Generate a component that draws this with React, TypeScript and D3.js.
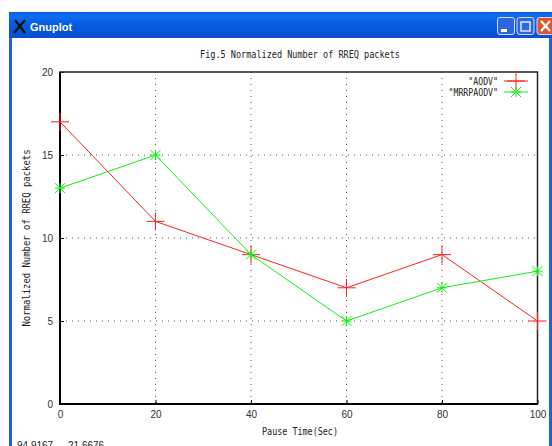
import React, {useEffect, useRef} from 'react';
import * as d3 from "d3";

const pauseTimes = [0, 20, 40, 60, 80, 100]
const aodv = [17, 11, 9, 7, 9, 5]
const mrrpaodv = [13, 15, 9, 5, 7, 8]
const xTicks = [0, 20, 40, 60, 80, 100]
const yTicks = [0, 5, 10, 15, 20]

const W = 552, H = 446
const left = 60, right = 537.5, top = 72, bottom = 404
const mono = "'DejaVu Sans Mono', monospace"
const sans = "'Liberation Sans', Arial, sans-serif"

export default function App() {
  const ref = useRef<SVGSVGElement>(null)

  useEffect(() => {
    const svg = d3.select(ref.current)
    svg.selectAll("*").remove()

    const x = d3.scaleLinear().domain([0, 100]).range([left, right])
    const y = d3.scaleLinear().domain([0, 20]).range([bottom, top])

    // window chrome
    const defs = svg.append("defs")
    const grad = defs.append("linearGradient").attr("id", "bar").attr("x1", 0).attr("x2", 0).attr("y1", 0).attr("y2", 1)
    grad.append("stop").attr("offset", "0").attr("stop-color", "#0a5fe0")
    grad.append("stop").attr("offset", "0.15").attr("stop-color", "#0f6cf0")
    grad.append("stop").attr("offset", "0.6").attr("stop-color", "#0358dc")
    grad.append("stop").attr("offset", "1").attr("stop-color", "#0a4fd0")
    svg.append("rect").attr("x", 9).attr("y", 12).attr("width", W - 9).attr("height", H - 12).attr("fill", "#1a63e8")
    svg.append("rect").attr("x", 9).attr("y", 12).attr("width", W - 9).attr("height", 26).attr("fill", "url(#bar)")
    svg.append("rect").attr("x", 12).attr("y", 38).attr("width", W - 15).attr("height", H - 38).attr("fill", "#fff")

    svg.append("path").attr("d", "M15 20L25 33M25 20L14 33").attr("stroke", "#111").attr("stroke-width", 2.2)
    svg.append("text").attr("x", 30).attr("y", 31).attr("font-family", sans).attr("font-size", 11)
      .attr("font-weight", "bold").attr("fill", "#fff").text("Gnuplot")

    const btn = (bx: number, fill: string) => svg.append("rect").attr("x", bx).attr("y", 17.5).attr("width", 17).attr("height", 17)
      .attr("rx", 2.5).attr("fill", fill).attr("stroke", "#cfdcf8").attr("stroke-width", 1)
    btn(497.5, "#2f66e0")
    svg.append("rect").attr("x", 501).attr("y", 29).attr("width", 6).attr("height", 3).attr("fill", "#fff")
    btn(517, "#2f66e0")
    svg.append("rect").attr("x", 521).attr("y", 22).attr("width", 9).attr("height", 9).attr("fill", "none").attr("stroke", "#dfe8fb").attr("stroke-width", 1.5)
    btn(537, "#e0562c")
    svg.append("path").attr("d", "M541 21L550 31M550 21L541 31").attr("stroke", "#fff").attr("stroke-width", 2.2)

    // grid
    const gridAttrs = (s: any) => s.attr("stroke", "#555").attr("stroke-width", 1).attr("stroke-dasharray", "1,5")
    svg.append("g").selectAll("line").data(xTicks.slice(1, -1)).join("line")
      .attr("x1", d => x(d)).attr("x2", d => x(d)).attr("y1", top).attr("y2", bottom).call(gridAttrs)
    svg.append("g").selectAll("line").data(yTicks.slice(1, -1)).join("line")
      .attr("x1", left).attr("x2", right).attr("y1", d => y(d)).attr("y2", d => y(d)).call(gridAttrs)

    // axes
    const xAxis = svg.append("g").attr("transform", `translate(0,${bottom})`)
      .call(d3.axisBottom(x).tickValues(xTicks).tickSize(-4).tickPadding(7).tickFormat(d3.format("d")) as any)
    const yAxis = svg.append("g").attr("transform", `translate(${left},0)`)
      .call(d3.axisLeft(y).tickValues(yTicks).tickSize(-4).tickPadding(7).tickFormat(d3.format("d")) as any)
    for (const a of [xAxis, yAxis]) {
      a.select(".domain").remove()
      a.selectAll("line").attr("stroke", "#000")
      a.selectAll("text").attr("font-family", sans).attr("font-size", 10).attr("fill", "#333")
    }
    svg.append("rect").attr("x", left).attr("y", top).attr("width", right - left).attr("height", bottom - top)
      .attr("fill", "none").attr("stroke", "#222").attr("stroke-width", 1.5)
    svg.append("path").attr("d", `M${left} ${top}V${bottom}H${right}`).attr("fill", "none").attr("stroke", "#000").attr("stroke-width", 2)

    // series
    const line = d3.line<number>().x((d, i) => x(pauseTimes[i])).y(d => y(d))
    const series = [
      {name: '"AODV"', values: aodv, color: "#ff2020", star: false},
      {name: '"MRRPAODV"', values: mrrpaodv, color: "#10f010", star: true},
    ]
    const marker = (g: any, cx: number, cy: number, color: string, star: boolean) => {
      let d = `M${cx - 9} ${cy}H${cx + 9}M${cx} ${cy - 9}V${cy + 9}`
      if (star) {
        const r = 5
        d = `M${cx - r} ${cy}H${cx + r}M${cx} ${cy - r}V${cy + r}M${cx - r} ${cy - r}L${cx + r} ${cy + r}M${cx - r} ${cy + r}L${cx + r} ${cy - r}`
      }
      g.append("path").attr("d", d).attr("stroke", color).attr("stroke-width", 1).attr("fill", "none")
    }
    series.forEach((s, si) => {
      const g = svg.append("g")
      g.append("path").attr("d", line(s.values)).attr("fill", "none").attr("stroke", s.color).attr("stroke-width", 1)
      s.values.forEach((v, i) => marker(g, x(pauseTimes[i]), y(v), s.color, s.star))

      // legend entry
      const ly = 81 + si * 11
      g.append("text").attr("x", 498).attr("y", ly + 3.5).attr("text-anchor", "end").attr("font-family", mono)
        .attr("font-size", 10).attr("fill", "#222")
        .attr("textLength", s.name.length * 4.95).attr("lengthAdjust", "spacingAndGlyphs").text(s.name)
      g.append("line").attr("x1", 504).attr("x2", 528).attr("y1", ly).attr("y2", ly).attr("stroke", s.color)
      marker(g, 516, ly, s.color, s.star)
    })

    // labels
    const label = (tx: number, ty: number, t: string, len: number) => svg.append("text").attr("x", tx).attr("y", ty)
      .attr("text-anchor", "middle").attr("font-family", mono).attr("font-size", 10).attr("fill", "#222")
      .attr("textLength", len).attr("lengthAdjust", "spacingAndGlyphs").text(t)
    label(300, 58, "Fig.5 Normalized Number of RREQ packets", 200)
    label(300, 435, "Pause Time(Sec)", 76)
    svg.append("text").attr("transform", "translate(30,238) rotate(-90)").attr("text-anchor", "middle")
      .attr("font-family", mono).attr("font-size", 10).attr("fill", "#222")
      .attr("textLength", 177).attr("lengthAdjust", "spacingAndGlyphs").text("Normalized Number of RREQ packets")
    // status line, cut by the window edge as in the screenshot
    svg.append("text").attr("x", 17).attr("y", 449).attr("font-family", sans).attr("font-size", 10).attr("fill", "#222").text("94.9167,")
    svg.append("text").attr("x", 68).attr("y", 449).attr("font-family", sans).attr("font-size", 10).attr("fill", "#222").text("21.6676")
  }, [])

  return <svg ref={ref} width={W} height={H} style={{position: "absolute", left: 0, top: 0, background: "#fff"}} />
}
